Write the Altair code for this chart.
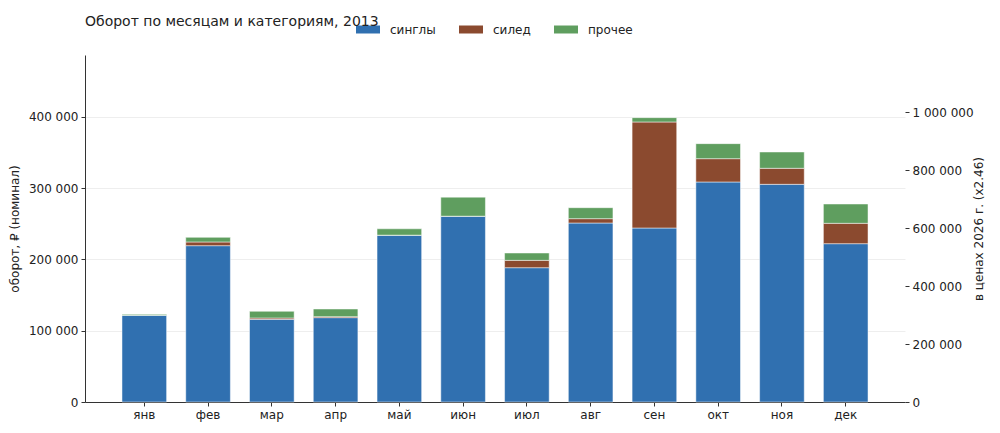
import altair as alt
import pandas as pd

months = ["янв", "фев", "мар", "апр", "май", "июн", "июл", "авг", "сен", "окт", "ноя", "дек"]
categories = ["синглы", "силед", "прочее"]
singles = [121600, 219400, 116000, 118400, 233900, 260600, 188500, 251200, 244200, 308800, 305500, 222200]
siled = [300, 5200, 1900, 1400, 300, 200, 10300, 6100, 148800, 32700, 22500, 28600]
other = [1100, 6500, 9400, 10700, 8900, 26700, 10300, 15400, 6100, 21100, 22900, 27100]
colors = ["#3070b0", "#8b4a2f", "#5f9e5f"]
factor = 2.46
y_max = 487000
left_ticks = [0, 100000, 200000, 300000, 400000]
right_ticks = [0, 200000, 400000, 600000, 800000, 1000000]

rows = []
series = [singles, siled, other]
for i, m in enumerate(months):
    for k, cat in enumerate(categories):
        rows.append({"month": m, "cat": cat, "ord": k, "value": series[k][i]})
df = pd.DataFrame(rows)

FONT = "DejaVu Sans"
fmt = "replace(format(datum.value, ','), regexp(',', 'g'), ' ')"

x_enc = alt.X(
    "month:N",
    sort=months,
    scale=alt.Scale(paddingInner=0.3, paddingOuter=0.58),
    axis=alt.Axis(
        title=None, labelAngle=0, labelFontSize=12, labelFont=FONT, labelColor="#222",
        tickSize=4, tickColor="#333", domainColor="#333", domainWidth=1, labelPadding=3,
    ),
)

base = alt.Chart(df)

bars = base.mark_bar(stroke="white", strokeWidth=0.7, strokeOpacity=0.7).encode(
    x=x_enc,
    y=alt.Y(
        "value:Q",
        stack="zero",
        scale=alt.Scale(domain=[0, y_max], nice=False, zero=True),
        axis=alt.Axis(
            orient="left", title="оборот, ₽ (номинал)", values=left_ticks, labelExpr=fmt,
            grid=True, gridColor="#eeeeee", gridWidth=1,
            labelFontSize=12, labelFont=FONT, labelColor="#222",
            titleFontSize=12, titleFont=FONT, titleFontWeight="normal", titleColor="#222",
            titlePadding=7, tickSize=4, tickColor="#333", domainColor="#333", domainWidth=1,
            labelPadding=3,
        ),
    ),
    color=alt.Color(
        "cat:N",
        scale=alt.Scale(domain=categories, range=colors),
        legend=alt.Legend(
            title=None, orient="none", direction="horizontal", legendX=271, legendY=-37.5,
            symbolType="M-1,-0.333H1V0.333H-1Z", symbolSize=576, symbolStrokeWidth=0,
            symbolOpacity=1, labelFontSize=12, labelFont=FONT, labelColor="#222",
            labelOffset=10, columnPadding=23,
        ),
    ),
    order=alt.Order("ord:Q", sort="ascending"),
)

right = base.transform_calculate(v2="datum.value * 2.46").mark_bar(opacity=0).encode(
    x=x_enc,
    y=alt.Y(
        "v2:Q",
        stack="zero",
        scale=alt.Scale(domain=[0, y_max * factor], nice=False, zero=True),
        axis=alt.Axis(
            orient="right", title="в ценах 2026 г. (x2.46)", values=right_ticks, labelExpr=fmt,
            grid=False, domain=False,
            labelFontSize=12, labelFont=FONT, labelColor="#222",
            titleFontSize=12, titleFont=FONT, titleFontWeight="normal", titleColor="#222",
            titleAngle=270, titlePadding=12, tickSize=4, tickColor="#333", labelPadding=3,
        ),
    ),
)

chart = alt.layer(bars, right).resolve_scale(y="independent").properties(
    width=820,
    height=347,
    autosize=alt.AutoSizeParams(type="none"),
    padding={"left": 85, "top": 55, "right": 95, "bottom": 31},
    title=alt.TitleParams(
        "Оборот по месяцам и категориям, 2013", anchor="start", frame="group",
        fontSize=14, fontWeight="normal", font=FONT, color="#222", offset=-11,
    ),
).configure(background="white", view=alt.ViewConfig(stroke=None))

chart.save("out.html", embed_options={"renderer": "svg", "actions": False})
